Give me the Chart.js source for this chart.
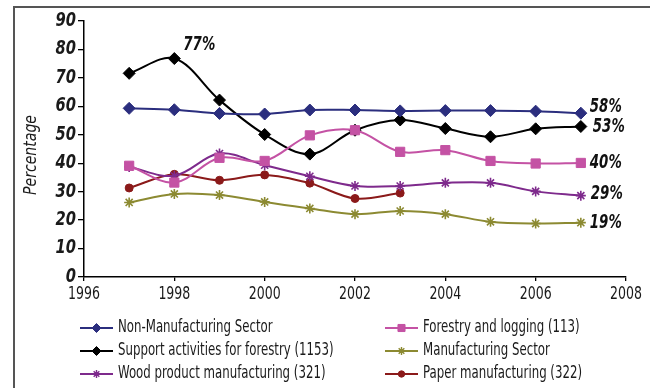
<!DOCTYPE html>
<html>
<head>
<meta charset="utf-8">
<script src="https://cdn.jsdelivr.net/npm/chart.js@4"></script>
<style>
  html, body { margin: 0; padding: 0; background: #fff; }
  #wrap { width: 650px; height: 388px; }
</style>
</head>
<body>
<div id="wrap"><canvas id="chart" width="650" height="388"></canvas></div>
<script>
// Share of establishments by sector, 1997-2007 (percent)
const years = [1997, 1998, 1999, 2000, 2001, 2002, 2003, 2004, 2005, 2006, 2007];
const nonManufacturing = [59.3, 58.8, 57.5, 57.3, 58.7, 58.7, 58.4, 58.5, 58.5, 58.3, 57.6];
const forestryLogging = [39.1, 33.2, 41.9, 40.8, 49.8, 51.6, 44.0, 44.6, 40.8, 39.9, 40.1];
const supportForestry = [71.6, 76.8, 62.2, 50.1, 43.2, 51.6, 55.2, 52.2, 49.3, 52.1, 52.9];
const manufacturing = [26.2, 29.2, 28.8, 26.4, 24.1, 22.1, 23.2, 22.1, 19.4, 18.8, 19.1];
const woodProduct = [38.7, 35.6, 43.4, 39.3, 35.4, 32.0, 32.0, 33.1, 33.1, 30.1, 28.6];
const paperManufacturing = [31.3, 36.1, 34.0, 35.9, 33.0, 27.6, 29.5, null, null, null, null];

const xTicks = [1996, 1998, 2000, 2002, 2004, 2006, 2008];
const yTicks = [0, 10, 20, 30, 40, 50, 60, 70, 80, 90];
const yTitle = 'Percentage';

// Narrowest installed face; drawn with a horizontal squeeze for a condensed look
const FACE = "'DejaVu Sans Condensed', 'DejaVu Sans', sans-serif";

function toPoints(values) {
  return years.map((y, i) => ({ x: y, y: values[i] }));
}

function squeezedText(ctx, text, x, y, font, sx, align) {
  ctx.save();
  ctx.translate(x, y);
  ctx.scale(sx, 1);
  ctx.font = font;
  ctx.textAlign = align;
  ctx.textBaseline = 'middle';
  ctx.fillText(text, 0, 0);
  ctx.restore();
}

// Which points carry a percentage label, and where the text sits relative to the point
function series(label, values, color, pointStyle, radius, legendRadius, valueLabels) {
  return {
    label,
    data: toPoints(values),
    borderColor: color,
    backgroundColor: color,
    pointBackgroundColor: color,
    pointBorderColor: color,
    pointStyle,
    pointRadius: radius,
    pointHoverRadius: radius,
    pointBorderWidth: pointStyle === 'star' ? 1.6 : 1,
    borderWidth: 2,
    tension: 0.35,
    spanGaps: false,
    legendRadius,
    valueLabels: valueLabels || []
  };
}

const datasets = [
  series('Non-Manufacturing Sector', nonManufacturing, '#2b2e7e', 'rectRot', 6, 4.5, [{ i: 10, dx: 9, dy: -6 }]),
  series('Forestry and logging (113)', forestryLogging, '#c452a4', 'rect', 6.5, 5, [{ i: 10, dx: 9, dy: 0 }]),
  series('Support activities for forestry (1153)', supportForestry, '#000000', 'rectRot', 6, 4.5, [{ i: 1, dx: 9, dy: -13 }, { i: 10, dx: 12, dy: 1 }]),
  series('Manufacturing Sector', manufacturing, '#8c8a32', 'star', 5, 4, [{ i: 10, dx: 9, dy: 0 }]),
  series('Wood product manufacturing (321)', woodProduct, '#7e2a8c', 'star', 5, 4, [{ i: 10, dx: 10, dy: -2 }]),
  series('Paper manufacturing (322)', paperManufacturing, '#8b1a1a', 'circle', 4, 3.2, [])
];

// Outer frame: left and top rules
const framePlugin = {
  id: 'frame',
  beforeDraw(chart) {
    const ctx = chart.ctx;
    ctx.save();
    ctx.strokeStyle = '#555555';
    ctx.lineWidth = 2;
    ctx.beginPath();
    ctx.moveTo(14, 388);
    ctx.lineTo(14, 7);
    ctx.lineTo(650, 7);
    ctx.stroke();
    ctx.restore();
  }
};

// Tick labels and axis title, placed from the chart's own scales
const axisTextPlugin = {
  id: 'axisText',
  afterDraw(chart) {
    const ctx = chart.ctx;
    const xs = chart.scales.x, ys = chart.scales.y;
    ctx.save();
    ctx.fillStyle = '#1a1a1a';
    ys.ticks.forEach(t => {
      squeezedText(ctx, String(t.value), xs.left - 8, ys.getPixelForValue(t.value),
        "italic bold 19px " + FACE, 0.86, 'right');
    });
    xs.ticks.forEach(t => {
      squeezedText(ctx, String(t.value), xs.getPixelForValue(t.value), ys.bottom + 18,
        "17px " + FACE, 0.82, 'center');
    });
    ctx.translate(31, (ys.top + ys.bottom) / 2 + 6);
    ctx.rotate(-Math.PI / 2);
    squeezedText(ctx, yTitle, 0, 0, "italic 18px " + FACE, 0.87, 'center');
    ctx.restore();
  }
};

// Percentage labels next to selected points
const valueLabelPlugin = {
  id: 'valueLabels',
  afterDatasetsDraw(chart) {
    const ctx = chart.ctx;
    ctx.save();
    ctx.fillStyle = '#111111';
    chart.data.datasets.forEach((ds, di) => {
      const meta = chart.getDatasetMeta(di);
      (ds.valueLabels || []).forEach(l => {
        const el = meta.data[l.i];
        const v = ds.data[l.i].y;
        if (!el || v == null) return;
        squeezedText(ctx, Math.round(v) + '%', el.x + l.dx, el.y + l.dy,
          "italic bold 19px " + FACE, 0.78, 'left');
      });
    });
    ctx.restore();
  }
};

// Two-column legend below the axis
const legendPlugin = {
  id: 'twoColLegend',
  afterDraw(chart) {
    const ctx = chart.ctx;
    const cols = [80, 385];
    const rows = [328, 351, 374];
    ctx.save();
    chart.data.datasets.forEach((ds, di) => {
      const x = cols[di % 2];
      const y = rows[Math.floor(di / 2)];
      ctx.strokeStyle = ds.borderColor;
      ctx.lineWidth = 2;
      ctx.beginPath();
      ctx.moveTo(x, y);
      ctx.lineTo(x + 33, y);
      ctx.stroke();
      ctx.fillStyle = ds.backgroundColor;
      ctx.lineWidth = ds.pointStyle === 'star' ? 1.4 : 1;
      Chart.helpers.drawPoint(ctx, { pointStyle: ds.pointStyle, radius: ds.legendRadius, rotation: 0, borderWidth: ctx.lineWidth }, x + 16.5, y);
      ctx.fillStyle = '#1a1a1a';
      squeezedText(ctx, ds.label, x + 38, y, "17px " + FACE, 0.77, 'left');
    });
    ctx.restore();
  }
};

new Chart(document.getElementById('chart'), {
  type: 'line',
  data: { datasets },
  plugins: [framePlugin, axisTextPlugin, valueLabelPlugin, legendPlugin],
  options: {
    responsive: false,
    animation: false,
    layout: { padding: { left: 16, top: 21, right: 24, bottom: 81 } },
    plugins: {
      legend: { display: false },
      tooltip: { enabled: false }
    },
    scales: {
      x: {
        type: 'linear',
        min: xTicks[0],
        max: xTicks[xTicks.length - 1],
        afterBuildTicks(scale) { scale.ticks = xTicks.map(v => ({ value: v })); },
        afterFit(scale) { scale.height = 30; },
        ticks: { display: false },
        grid: { display: true, drawOnChartArea: false, drawTicks: true, tickLength: 4, color: '#000000', lineWidth: 1.3 },
        border: { display: true, color: '#000000', width: 1.5 }
      },
      y: {
        type: 'linear',
        min: yTicks[0],
        max: yTicks[yTicks.length - 1],
        afterBuildTicks(scale) { scale.ticks = yTicks.map(v => ({ value: v })); },
        afterFit(scale) { scale.width = 68; },
        ticks: { display: false },
        grid: { display: true, drawOnChartArea: false, drawTicks: true, tickLength: 6, color: '#000000', lineWidth: 1.3 },
        border: { display: true, color: '#000000', width: 1.5 }
      }
    }
  }
});
</script>
</body>
</html>
